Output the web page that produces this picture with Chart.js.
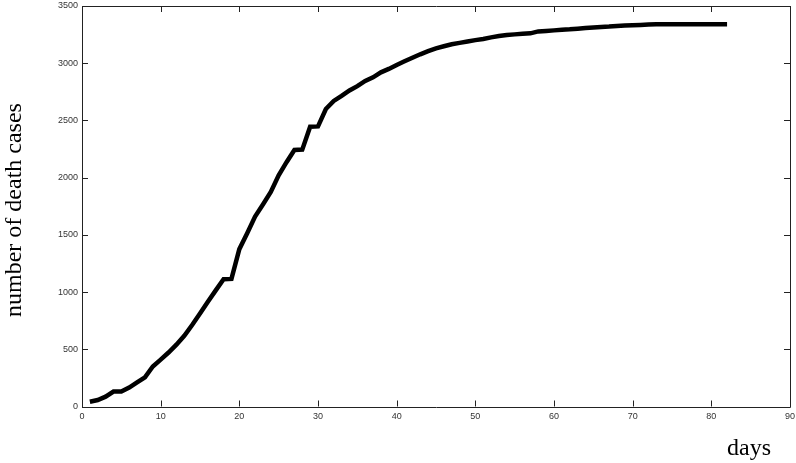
<!DOCTYPE html>
<html>
<head>
<meta charset="utf-8">
<script src="https://cdn.jsdelivr.net/npm/chart.js@4/dist/chart.umd.min.js"></script>
<style>
  html, body { margin: 0; padding: 0; background: #fff; }
  #wrap { width: 796px; height: 463px; position: relative; }
</style>
</head>
<body>
<div id="wrap"><canvas id="c" width="796" height="463"></canvas></div>
<script>
// ---- data ----
const days = [1,2,3,4,5,6,7,8,9,10,11,12,13,14,15,16,17,18,19,20,
  21,22,23,24,25,26,27,28,29,30,31,32,33,34,35,36,37,38,39,40,
  41,42,43,44,45,46,47,48,49,50,51,52,53,54,55,56,57,58,59,60,
  61,62,63,64,65,66,67,68,69,70,71,72,73,74,75,76,77,78,79,80,81,82];
const deaths = [42,57,86,130,130,165,210,255,350,410,
  472,540,618,712,812,915,1015,1112,1115,1375,
  1515,1660,1765,1875,2020,2135,2242,2245,2445,2448,
  2600,2670,2714,2762,2800,2845,2877,2920,2950,2985,
  3017,3048,3078,3105,3130,3148,3166,3178,3190,3202,
  3212,3226,3237,3246,3252,3257,3261,3278,3282,3287,
  3293,3296,3302,3308,3313,3317,3320,3326,3329,3332,
  3335,3338,3340,3341,3341,3341,3341,3341,3341,3341,3341,3341];
const xTicks = [0,10,20,30,40,50,60,70,80,90];
const yTicks = [0,500,1000,1500,2000,2500,3000,3500];
const xTitle = 'days';
const yTitle = 'number of death cases';

const points = days.map((d, i) => ({x: d, y: deaths[i]}));

const framePlugin = {
  id: 'frame',
  afterDraw(chart) {
    const {ctx, chartArea: a, scales} = chart;
    const tl = 6;
    ctx.save();
    ctx.strokeStyle = '#222';
    ctx.lineWidth = 1;
    ctx.beginPath();
    ctx.rect(Math.round(a.left) + 0.5, Math.round(a.top) + 0.5,
             Math.round(a.right - a.left), Math.round(a.bottom - a.top));
    ctx.stroke();
    ctx.beginPath();
    xTicks.forEach(v => {
      const px = Math.round(scales.x.getPixelForValue(v)) + 0.5;
      ctx.moveTo(px, a.bottom); ctx.lineTo(px, a.bottom - tl);
      ctx.moveTo(px, a.top); ctx.lineTo(px, a.top + tl);
    });
    yTicks.forEach(v => {
      const py = Math.round(scales.y.getPixelForValue(v)) + 0.5;
      ctx.moveTo(a.left, py); ctx.lineTo(a.left + tl, py);
      ctx.moveTo(a.right, py); ctx.lineTo(a.right - tl, py);
    });
    ctx.stroke();
    // axis titles
    ctx.fillStyle = '#000';
    ctx.font = '24px "Liberation Serif", "Times New Roman", serif';
    ctx.textBaseline = 'alphabetic';
    ctx.textAlign = 'left';
    ctx.fillText(xTitle, 727, 455);
    ctx.translate(21, 210);
    ctx.rotate(-Math.PI / 2);
    ctx.textAlign = 'center';
    ctx.fillText(yTitle, 0, 0);
    ctx.restore();
  }
};

new Chart(document.getElementById('c'), {
  type: 'line',
  data: {
    datasets: [{
      data: points,
      borderColor: '#000',
      borderWidth: 4.5,
      pointRadius: 0,
      tension: 0,
      fill: false,
      borderJoinStyle: 'miter'
    }]
  },
  options: {
    responsive: false,
    animation: false,
    layout: { padding: { left: 0, right: 6, top: 6, bottom: 0 } },
    plugins: { legend: { display: false }, tooltip: { enabled: false } },
    scales: {
      x: {
        type: 'linear', min: 0, max: 90,
        afterBuildTicks: s => { s.ticks = xTicks.map(v => ({value: v})); },
        afterFit: s => { s.height = 56.5; s.paddingLeft = 0; s.paddingRight = 0; },
        grid: { display: false, drawTicks: false },
        border: { display: false },
        ticks: { padding: 5, color: '#333', maxRotation: 0,
                 font: { family: '"Liberation Sans", Arial, sans-serif', size: 9 },
                 callback: v => String(v) }
      },
      y: {
        type: 'linear', min: 0, max: 3500,
        afterBuildTicks: s => { s.ticks = yTicks.map(v => ({value: v})); },
        afterFit: s => { s.width = 82; s.paddingTop = 0; s.paddingBottom = 0; },
        grid: { display: false, drawTicks: false },
        border: { display: false },
        ticks: { padding: 4, color: '#333',
                 font: { family: '"Liberation Sans", Arial, sans-serif', size: 9 },
                 callback: v => String(v) }
      }
    }
  },
  plugins: [framePlugin]
});
</script>
</body>
</html>
